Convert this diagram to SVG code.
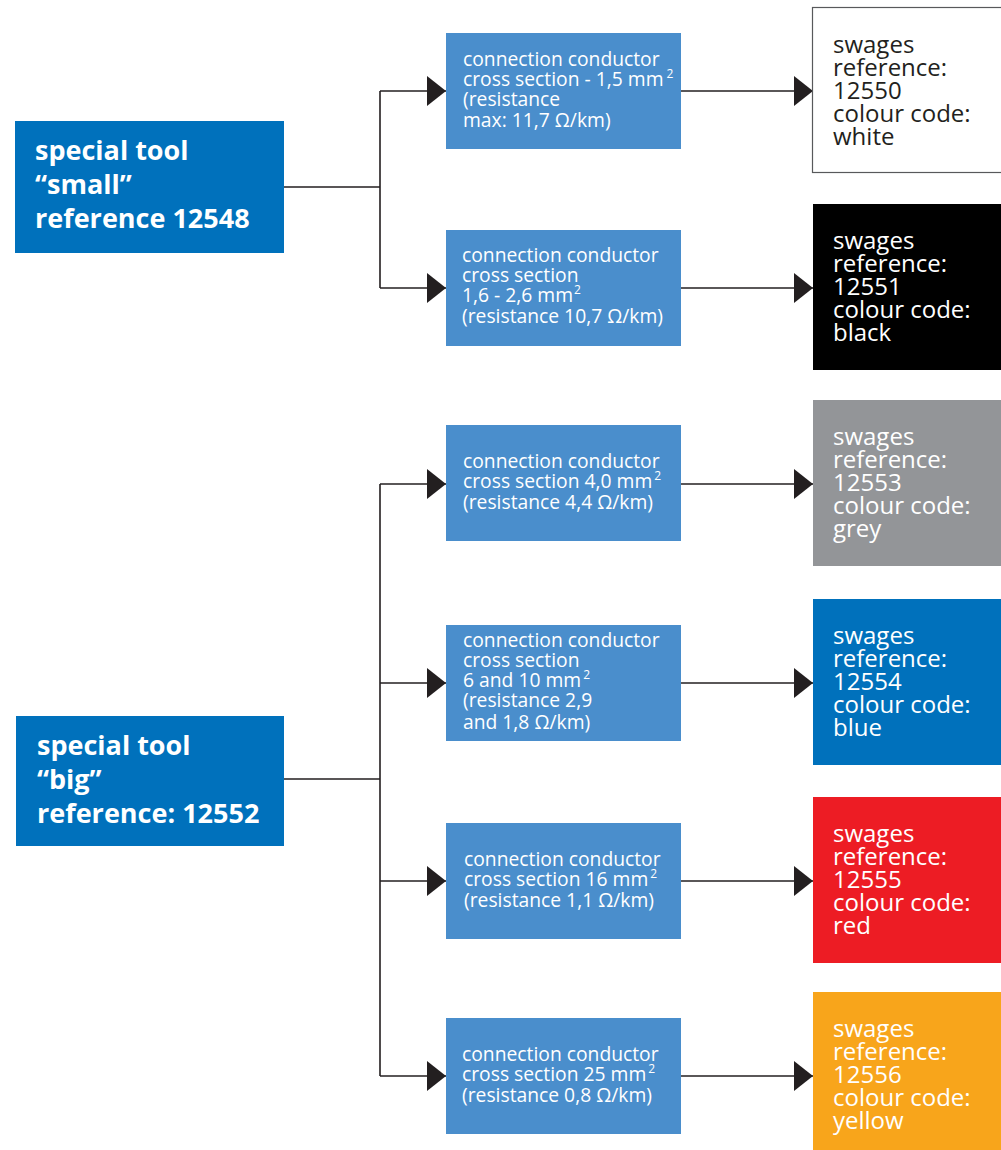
<svg xmlns="http://www.w3.org/2000/svg" width="1001" height="1150" viewBox="0 0 1001 1150">
<style>
.tool{fill:#0071BC}
.mid{fill:#4A8ECC}
.tt{font-family:"Open Sans","Liberation Sans",sans-serif;font-weight:bold;font-size:27px;fill:#fff}
.mt{font-family:"Open Sans","Liberation Sans",sans-serif;font-size:19.3px;fill:#fff}
.rt{font-family:"Open Sans","Liberation Sans",sans-serif;font-size:24px;fill:#fff}
.dark{fill:#231F20}
.sup{font-size:12px}
.con{fill:none;stroke:#231F20;stroke-width:1.6}
</style>
<defs>
<marker id="arr" viewBox="0 0 19 30" refX="19" refY="15" markerWidth="19" markerHeight="30" markerUnits="userSpaceOnUse" orient="auto">
<path d="M0,0 L19,15 L0,30 Z" fill="#231F20"/>
</marker>
</defs>
<rect width="1001" height="1150" fill="#fff"/>

<g id="connectors">
<path class="con" d="M284,187 H380 M380,91 V288"/>
<path class="con" d="M380,91 H446" marker-end="url(#arr)"/>
<path class="con" d="M380,288 H446" marker-end="url(#arr)"/>
<path class="con" d="M681,91 H813" marker-end="url(#arr)"/>
<path class="con" d="M681,288 H813" marker-end="url(#arr)"/>
<path class="con" d="M284,779 H380 M380,484 V1076"/>
<path class="con" d="M380,484 H446" marker-end="url(#arr)"/>
<path class="con" d="M380,683 H446" marker-end="url(#arr)"/>
<path class="con" d="M380,881 H446" marker-end="url(#arr)"/>
<path class="con" d="M380,1076 H446" marker-end="url(#arr)"/>
<path class="con" d="M681,484 H813" marker-end="url(#arr)"/>
<path class="con" d="M681,683 H813" marker-end="url(#arr)"/>
<path class="con" d="M681,881 H813" marker-end="url(#arr)"/>
<path class="con" d="M681,1076 H813" marker-end="url(#arr)"/>
</g>

<g id="tool-small">
<rect class="tool" x="15" y="121" width="269" height="132"/>
<text class="tt"><tspan x="35" y="160">special tool</tspan><tspan x="35" y="194">“small”</tspan><tspan x="35" y="228">reference 12548</tspan></text>
</g>
<g id="tool-big">
<rect class="tool" x="16" y="716" width="268" height="130"/>
<text class="tt"><tspan x="37" y="755">special tool</tspan><tspan x="37" y="789">“big”</tspan><tspan x="37" y="823">reference: 12552</tspan></text>
</g>

<g id="cond-1">
<rect class="mid" x="446" y="33" width="235" height="116"/>
<text class="mt"><tspan x="463" y="66">connection conductor</tspan><tspan x="463" y="86">cross section - 1,5 mm</tspan><tspan class="sup" dx="3" dy="-8">2</tspan><tspan x="463" y="106">(resistance</tspan><tspan x="463" y="127">max: 11,7 Ω/km)</tspan></text>
</g>
<g id="cond-2">
<rect class="mid" x="446" y="230" width="235" height="116"/>
<text class="mt"><tspan x="462" y="262">connection conductor</tspan><tspan x="462" y="282">cross section</tspan><tspan x="462" y="302">1,6 - 2,6 mm</tspan><tspan class="sup" dx="1" dy="-8">2</tspan><tspan x="462" y="323">(resistance 10,7 Ω/km)</tspan></text>
</g>
<g id="cond-3">
<rect class="mid" x="446" y="425" width="235" height="116"/>
<text class="mt"><tspan x="463" y="468">connection conductor</tspan><tspan x="463" y="488">cross section 4,0 mm</tspan><tspan class="sup" dx="2" dy="-8">2</tspan><tspan x="463" y="509">(resistance 4,4 Ω/km)</tspan></text>
</g>
<g id="cond-4">
<rect class="mid" x="446" y="625" width="235" height="116"/>
<text class="mt"><tspan x="463" y="647">connection conductor</tspan><tspan x="463" y="667">cross section</tspan><tspan x="463" y="687">6 and 10 mm</tspan><tspan class="sup" dx="2" dy="-8">2</tspan><tspan x="463" y="707">(resistance 2,9</tspan><tspan x="463" y="729">and 1,8 Ω/km)</tspan></text>
</g>
<g id="cond-5">
<rect class="mid" x="446" y="823" width="235" height="116"/>
<text class="mt"><tspan x="464" y="866">connection conductor</tspan><tspan x="464" y="886">cross section 16 mm</tspan><tspan class="sup" dx="2" dy="-8">2</tspan><tspan x="464" y="907">(resistance 1,1 Ω/km)</tspan></text>
</g>
<g id="cond-6">
<rect class="mid" x="446" y="1018" width="235" height="116"/>
<text class="mt"><tspan x="462" y="1061">connection conductor</tspan><tspan x="462" y="1081">cross section 25 mm</tspan><tspan class="sup" dx="2" dy="-8">2</tspan><tspan x="462" y="1102">(resistance 0,8 Ω/km)</tspan></text>
</g>

<g id="swage-white">
<rect x="812.5" y="7.5" width="200" height="165" fill="#fff" stroke="#58595B" stroke-width="1.2"/>
<text class="rt dark"><tspan x="833" y="53">swages</tspan><tspan x="833" y="76">reference:</tspan><tspan x="833" y="99">12550</tspan><tspan x="833" y="122">colour code:</tspan><tspan x="833" y="145">white</tspan></text>
</g>
<g id="swage-black">
<rect x="813" y="204" width="188" height="166" fill="#000"/>
<text class="rt"><tspan x="833" y="249">swages</tspan><tspan x="833" y="272">reference:</tspan><tspan x="833" y="295">12551</tspan><tspan x="833" y="318">colour code:</tspan><tspan x="833" y="341">black</tspan></text>
</g>
<g id="swage-grey">
<rect x="813" y="400" width="188" height="166" fill="#939598"/>
<text class="rt"><tspan x="833" y="445">swages</tspan><tspan x="833" y="468">reference:</tspan><tspan x="833" y="491">12553</tspan><tspan x="833" y="514">colour code:</tspan><tspan x="833" y="537">grey</tspan></text>
</g>
<g id="swage-blue">
<rect x="813" y="599" width="188" height="166" fill="#0071BC"/>
<text class="rt"><tspan x="833" y="644">swages</tspan><tspan x="833" y="667">reference:</tspan><tspan x="833" y="690">12554</tspan><tspan x="833" y="713">colour code:</tspan><tspan x="833" y="736">blue</tspan></text>
</g>
<g id="swage-red">
<rect x="813" y="797" width="188" height="166" fill="#ED1C24"/>
<text class="rt"><tspan x="833" y="842">swages</tspan><tspan x="833" y="865">reference:</tspan><tspan x="833" y="888">12555</tspan><tspan x="833" y="911">colour code:</tspan><tspan x="833" y="934">red</tspan></text>
</g>
<g id="swage-yellow">
<rect x="813" y="992" width="188" height="158" fill="#F8A51B"/>
<text class="rt"><tspan x="833" y="1037">swages</tspan><tspan x="833" y="1060">reference:</tspan><tspan x="833" y="1083">12556</tspan><tspan x="833" y="1106">colour code:</tspan><tspan x="833" y="1129">yellow</tspan></text>
</g>
</svg>
